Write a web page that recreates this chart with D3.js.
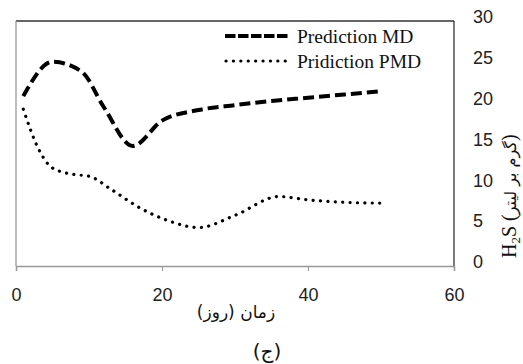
<!DOCTYPE html>
<html>
<head>
<meta charset="utf-8">
<script src="https://cdn.jsdelivr.net/npm/d3@7"></script>
<style>
	body{ margin:0; background:#fff; }
	svg{ display:block; }
</style>
</head>
<body>
<svg id="chart"></svg>
<script>
// data
const mdDays = [1, 5, 9, 12, 16, 20, 25, 30, 35, 40, 45, 50];
const mdValues = [20.8, 25, 23.8, 19.5, 14.7, 17.8, 19.1, 19.7, 20.2, 20.6, 21.0, 21.4];
const pmdDays = [1, 3, 5, 8, 10, 13, 17, 21, 25, 30, 36, 40, 45, 50];
const pmdValues = [19.2, 14.5, 12.0, 11.2, 11.0, 9.4, 7.1, 5.5, 4.7, 6.2, 8.5, 8.1, 7.8, 7.7];
const xTicks = [0, 20, 40, 60];
const yTicks = [0, 5, 10, 15, 20, 25, 30];
const seriesNames = ["Prediction MD", "Pridiction PMD"];

const width = 523, height = 364;
const plotLeft = 16, plotRight = 454, plotTop = 21, plotBottom = 266;

let svg = d3.select("#chart")
	.attr("width", width)
	.attr("height", height);

let x = d3.scaleLinear().domain([0, 60]).range([plotLeft, plotRight]);
let y = d3.scaleLinear().domain([0, 30]).range([plotBottom, plotTop]);

// frame: top/right dark, left/bottom gray
svg.append("line").attr("x1", plotLeft).attr("x2", plotRight).attr("y1", plotTop).attr("y2", plotTop)
	.attr("stroke", "#333").attr("stroke-width", 1.3);
svg.append("line").attr("x1", plotRight).attr("x2", plotRight).attr("y1", plotTop).attr("y2", plotBottom)
	.attr("stroke", "#333").attr("stroke-width", 1.3);
svg.append("line").attr("x1", plotLeft).attr("x2", plotLeft).attr("y1", plotTop).attr("y2", plotBottom)
	.attr("stroke", "#999").attr("stroke-width", 1.3);

// x axis
let xAxis = svg.append("g")
	.attr("transform", "translate(0," + plotBottom + ")")
	.call(d3.axisBottom(x).tickValues(xTicks).tickSize(5).tickPadding(17));
xAxis.select(".domain").attr("stroke", "#999").attr("stroke-width", 1.6);
xAxis.selectAll(".tick line").attr("stroke", "#999");
xAxis.selectAll("text")
	.attr("font-family", "Liberation Sans, Arial, sans-serif")
	.attr("font-size", 18)
	.attr("fill", "#222");

// y axis on the right, labels only
let yAxis = svg.append("g")
	.attr("transform", "translate(" + plotRight + ",0)")
	.call(d3.axisRight(y).tickValues(yTicks).tickSize(0).tickPadding(19));
yAxis.select(".domain").remove();
yAxis.selectAll("text")
	.attr("font-family", "Liberation Sans, Arial, sans-serif")
	.attr("font-size", 18)
	.attr("fill", "#222")
	.attr("dy", "0.1em");

let line = d3.line()
	.x(d => x(d[0]))
	.y(d => y(d[1]))
	.curve(d3.curveMonotoneX);

svg.append("path")
	.datum(d3.zip(mdDays, mdValues))
	.attr("d", line)
	.attr("fill", "none")
	.attr("stroke", "#000")
	.attr("stroke-width", 4)
	.attr("stroke-dasharray", "11 5");

svg.append("path")
	.datum(d3.zip(pmdDays, pmdValues))
	.attr("d", line)
	.attr("fill", "none")
	.attr("stroke", "#000")
	.attr("stroke-width", 3.2)
	.attr("stroke-linecap", "round")
	.attr("stroke-dasharray", "0.1 7.3");

// legend
let legend = svg.append("g").attr("transform", "translate(225,36)");
legend.append("line").attr("x1", 0).attr("x2", 63).attr("y1", 0).attr("y2", 0)
	.attr("stroke", "#000").attr("stroke-width", 4).attr("stroke-dasharray", "10.5 2.5");
legend.append("line").attr("x1", 1).attr("x2", 63).attr("y1", 25).attr("y2", 25)
	.attr("stroke", "#000").attr("stroke-width", 3.2).attr("stroke-linecap", "round")
	.attr("stroke-dasharray", "0.1 7.3");
legend.selectAll("text.lg")
	.data(seriesNames)
	.join("text")
	.attr("class", "lg")
	.attr("x", 72)
	.attr("y", (d, i) => 7 + i * 25)
	.attr("font-family", "Liberation Serif, Times New Roman, serif")
	.attr("font-size", 19.5)
	.attr("fill", "#111")
	.text(d => d);

// axis titles
svg.append("text")
	.attr("x", 236)
	.attr("y", 318)
	.attr("text-anchor", "middle")
	.attr("font-family", "DejaVu Sans, sans-serif")
	.attr("font-size", 17)
	.attr("fill", "#111")
	.text("زمان (روز)");

svg.append("text")
	.attr("x", 267)
	.attr("y", 358)
	.attr("text-anchor", "middle")
	.attr("font-family", "DejaVu Sans, sans-serif")
	.attr("font-size", 20)
	.attr("fill", "#111")
	.text("(ج)");

let yTitle = svg.append("text")
	.attr("transform", "translate(516,258) rotate(-90)")
	.attr("text-anchor", "start")
	.attr("font-family", "Liberation Serif, Times New Roman, serif")
	.attr("font-size", 20)
	.attr("fill", "#111");
yTitle.append("tspan").text("H");
yTitle.append("tspan").attr("font-size", 13).attr("dy", 4).text("2");
yTitle.append("tspan").attr("dy", -4).text("S (");
yTitle.append("tspan").attr("font-family", "DejaVu Sans, sans-serif").attr("font-size", 16).text("گرم بر لیتر");
yTitle.append("tspan").text(")");
</script>
</body>
</html>
